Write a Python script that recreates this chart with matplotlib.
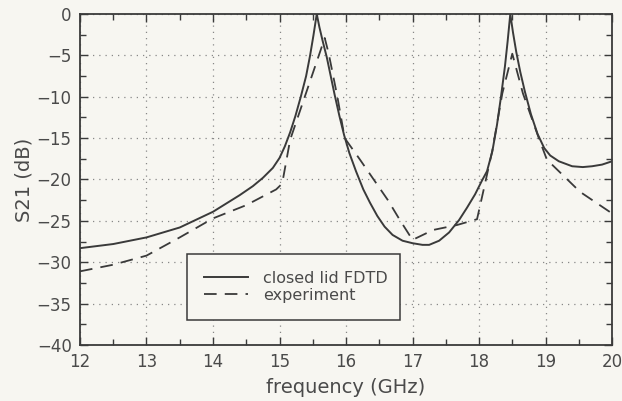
import numpy as np
from matplotlib import pyplot as plt
from matplotlib.ticker import MultipleLocator

# closed lid FDTD
fdtd_freq = [12.0, 12.5, 13.0, 13.5, 14.0, 14.2, 14.4, 14.6, 14.75, 14.9,
             15.0, 15.08, 15.16, 15.24, 15.32, 15.4, 15.46, 15.51, 15.56, 15.6,
             15.65, 15.71, 15.77, 15.83, 15.9, 15.97, 16.05, 16.15, 16.26, 16.36,
             16.47, 16.58, 16.7, 16.85, 17.0, 17.15, 17.25, 17.4, 17.55, 17.7,
             17.82, 17.94, 18.04, 18.12, 18.2, 18.27, 18.33, 18.39, 18.43, 18.47,
             18.51, 18.56, 18.62, 18.69, 18.78, 18.88, 18.98, 19.07, 19.2, 19.4,
             19.56, 19.7, 19.85, 20.0]
fdtd_s21 = [-28.3, -27.8, -27.0, -25.8, -23.9, -22.9, -21.9, -20.8, -19.8, -18.6,
            -17.4, -16.0, -14.3, -12.3, -10.0, -7.5, -5.0, -2.6, 0.0, -1.6,
            -3.3, -5.2, -7.5, -9.8, -12.3, -14.6, -16.8, -19.0, -21.2, -22.8,
            -24.4, -25.7, -26.7, -27.4, -27.7, -27.9, -27.9, -27.4, -26.4, -24.9,
            -23.4, -21.8, -20.2, -19.0, -16.6, -13.4, -10.0, -6.3, -3.3, 0.0,
            -2.2, -4.6, -7.0, -9.4, -12.1, -14.5, -16.2, -17.1, -17.8, -18.4,
            -18.5, -18.4, -18.2, -17.8]

# experiment
exp_freq = [12.0, 12.5, 13.0, 13.5, 14.0, 14.5, 14.95, 15.04, 15.16, 15.38,
            15.6, 15.68, 15.74, 15.87, 15.98, 16.21, 16.63, 16.81, 17.0, 17.31,
            17.67, 17.97, 18.09, 18.2, 18.35, 18.5, 18.66, 18.89, 18.95, 19.02,
            19.52, 20.0]
exp_s21 = [-31.1, -30.3, -29.2, -27.0, -24.7, -23.1, -21.2, -20.5, -15.2, -10.0,
           -4.8, -2.9, -4.8, -10.0, -15.0, -17.6, -22.5, -24.9, -27.3, -26.1,
           -25.5, -24.8, -20.5, -16.5, -9.6, -4.8, -9.6, -14.8, -16.1, -17.6,
           -21.5, -24.1]

ink = '#3a3a3a'
paper = '#f7f6f1'

fig = plt.figure(figsize=(6.22, 4.01), dpi=100, facecolor=paper)
ax = fig.add_axes([0.1286, 0.1397, 0.8554, 0.8254], facecolor=paper)

ax.plot(fdtd_freq, fdtd_s21, color=ink, linewidth=1.4, label='closed lid FDTD')
ax.plot(exp_freq, exp_s21, color=ink, linewidth=1.3, dashes=(7, 4.5), label='experiment')

ax.set_xlim(12, 20)
ax.set_ylim(-40, 0)
ax.xaxis.set_major_locator(MultipleLocator(1))
ax.xaxis.set_minor_locator(MultipleLocator(0.5))
ax.yaxis.set_major_locator(MultipleLocator(5))
ax.yaxis.set_minor_locator(MultipleLocator(2.5))
ax.tick_params(which='both', direction='in', top=True, right=True, color=ink,
               labelcolor='#4a4a4a', labelsize=12, pad=6)
ax.tick_params(which='major', length=6, width=1)
ax.tick_params(which='minor', length=4, width=1)
ax.grid(True, which='major', linestyle=(0, (1, 4)), color='#888888', linewidth=0.9)
for s in ax.spines.values():
    s.set_color(ink)
    s.set_linewidth(1.3)

ax.set_xlabel('frequency (GHz)', fontsize=14, color='#4a4a4a', labelpad=5)
ax.set_ylabel('S21 (dB)', fontsize=14, color='#4a4a4a', labelpad=2)

leg = ax.legend(loc='lower left', bbox_to_anchor=(0.201, 0.076, 0.40, 0.205), mode='expand',
                fontsize=11.5, frameon=True, fancybox=False, handlelength=2.8,
                handletextpad=0.9, borderaxespad=0, labelspacing=0.15, borderpad=1.05,
                labelcolor='#4a4a4a')
leg.get_frame().set_edgecolor(ink)
leg.get_frame().set_linewidth(1.1)
leg.get_frame().set_facecolor(paper)
leg.get_frame().set_alpha(1)

fig.savefig('out.png', dpi=100, facecolor=paper)
